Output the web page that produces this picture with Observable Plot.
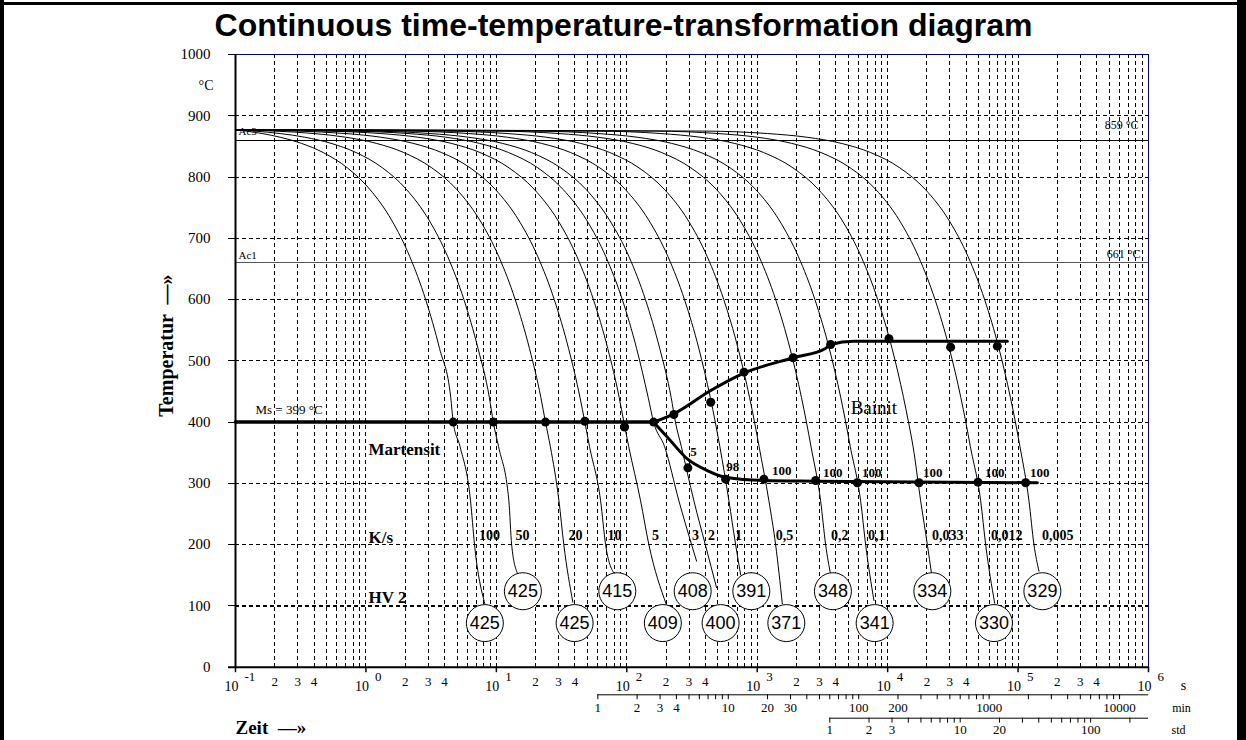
<!DOCTYPE html>
<html><head><meta charset="utf-8">
<script src="https://cdn.jsdelivr.net/npm/d3@7"></script>
<script src="https://cdn.jsdelivr.net/npm/@observablehq/plot@0.6"></script>
<style>
body{margin:0;background:#fff;width:1246px;height:740px;overflow:hidden;position:relative}
#chart{position:absolute;left:0;top:0}
.bar{position:absolute;background:#000}
</style></head><body>
<div id="chart"></div>
<div class="bar" style="left:0;top:0;width:4px;height:740px"></div>
<div class="bar" style="left:0;top:2px;width:1246px;height:3px"></div>
<div class="bar" style="left:1237px;top:0;width:9px;height:740px"></div>
<script>
// ---------- data ----------
const title = "Continuous time-temperature-transformation diagram";
const rateLabels = ["100","50","20","10","5","3","2","1","0,5","0,2","0,1","0,033","0,012","0,005"];
// time (s) where each cooling curve crosses these temperatures (°C)
const upperLevels = [877, 875, 871, 865, 855, 840, 815, 780, 730, 670, 600, 520, 440];
const upperTimes = [
  [0.1, 0.12, 0.16, 0.22, 0.32, 0.47, 0.72, 1.07, 1.57, 2.17, 2.87, 3.67, 4.47],
  [0.1, 0.14, 0.22, 0.34, 0.54, 0.84, 1.34, 2.04, 3.04, 4.24, 5.64, 7.24, 8.84],
  [0.1, 0.2, 0.4, 0.7, 1.2, 1.95, 3.2, 4.95, 7.45, 10.45, 13.95, 17.95, 21.95],
  [0.1, 0.3, 0.7, 1.3, 2.3, 3.8, 6.3, 9.8, 14.8, 20.8, 27.8, 35.8, 43.8],
  [0.1, 0.5, 1.3, 2.5, 4.5, 7.5, 12.5, 19.5, 29.5, 41.5, 55.5, 71.5, 87.5],
  [0.1, 0.77, 2.1, 4.1, 7.4, 12.4, 20.8, 32.4, 49.1, 69.1, 92.4, 119, 146],
  [0.1, 1.1, 3.1, 6.1, 11.1, 18.6, 31.1, 48.6, 73.6, 104, 139, 179, 219],
  [0.1, 2.1, 6.1, 12.1, 22.1, 37.1, 62.1, 97.1, 147, 207, 277, 357, 437],
  [0.1, 4.1, 12.1, 24.1, 44.1, 74.1, 124, 194, 294, 414, 554, 714, 874],
  [0.1, 10.1, 30.1, 60.1, 110, 185, 310, 485, 735, 1035, 1385, 1785, 2185],
  [0.1, 20, 60, 120, 220, 370, 620, 970, 1470, 2070, 2770, 3570, 4370],
  [0.1, 61, 182, 364, 667, 1121, 1879, 2939, 4455, 6273, 8394, 10818, 13242],
  [0.1, 167, 500, 1000, 1833, 3083, 5167, 8083, 12250, 17250, 23083, 29750, 36417],
  [0.1, 400, 1200, 2400, 4400, 7400, 12400, 19400, 29400, 41400, 55400, 71400, 87400]
];
const lowerLevels = [400, 360, 271.5, 200];
const lowerTimes = [
  [4.67, 5.27, 6.34, 6.80],
  [9.47, 10.4, 12.47, 13.1],
  [23.8, 25.95, 30.2, 32.9],
  [47.7, 51.8, 63.0, 68.8],
  [95, 103.5, 127.6, 147.7],
  [160.5, 195, 251, 314],
  [236, 262, 327, 400],
  [477, 517, 607, 683],
  [954, 1034, 1229, 1384],
  [2385, 2585, 3064, 3346],
  [4770, 5170, 6207, 6781],
  [14454, 15667, 17910, 20160],
  [39750, 43083, 51670, 56430],
  [95400, 103400, 121200, 132400]
];
const endTimes = [8.16, 14.5, 38.6, 79.6, 201, 343, 488, 746, 1558, 3655, 7850, 21750, 66170, 144660];
const endTemps = [103.5, 153.4, 106, 153.4, 102.3, 173, 129.6, 151.3, 103.5, 151.3, 108.9, 151.3, 104.5, 156.7];
const rateLabelTimes = [8.87, 15.88, 40.5, 80.6, 166, 337, 447, 720, 1622, 4284, 8233, 28850, 81760, 201200];

const hvValues = [425, 425, 425, 415, 409, 408, 400, 391, 371, 348, 341, 334, 330, 329];
const hvTimes = [8.16, 15.97, 39.8, 84.6, 189, 320, 524, 901, 1672, 3806, 7950, 22020, 65350, 153600];
const hvTemps = [72, 124, 72, 124, 72, 124, 72, 124, 72, 124, 72, 124, 72, 124];

const msTemp = 400, msLabel = "Ms = 399 °C";
const msLineTimes = [0.1, 160.5];
const msDotTimes = [4.67, 9.47, 23.8, 47.7, 96.2, 160.5];
const msDotTemps = [400, 400, 400, 401.5, 392, 400];
const bsLineTimes = [160.5, 229.6, 440, 792, 1888, 3311, 3657, 5516, 82800];
const bsLineTemps = [400, 413.6, 451.6, 480, 505, 519.7, 526.7, 532, 532];
const bsDotTimes = [229.6, 440, 792, 1888, 3657, 10230, 30400, 69300];
const bsDotTemps = [412.5, 432.5, 481.5, 505, 526.7, 536, 522.3, 524];
const bfLineTimes = [160.5, 205, 291, 414, 573, 1125, 2806, 140600];
const bfLineTemps = [400, 375.4, 340, 321, 310, 304.7, 303.6, 301];
const bfDotTimes = [294, 572, 1126, 2806, 5855, 17400, 49270, 114300];
const bfDotTemps = [325.4, 306.9, 306.9, 304.7, 301, 301, 302, 301];
const pctLabels = ["5", "98", "100", "100", "100", "100", "100", "100"];
const pctTimes = [325, 648, 1539, 3786, 7540, 22140, 66170, 146400];
const pctTemps = [352, 327.6, 321, 318, 318, 318, 318, 318];

const ac3 = 859, ac1 = 661;
const yTicks = [0, 100, 200, 300, 400, 500, 600, 700, 800, 900, 1000];
const decadeExp = [-1, 0, 1, 2, 3, 4, 5, 6];
const minorLabelMult = [2, 3, 4];
const minLabels = [1, 2, 3, 4, 10, 20, 30, 100, 200, 1000, 10000];
const stdLabels = [1, 2, 3, 10, 20, 100];

// ---------- derived tables ----------
const curves = rateLabels.flatMap((r, i) => [
  ...upperLevels.map((T, j) => ({id: i, t: upperTimes[i][j], T})),
  ...lowerLevels.map((T, j) => ({id: i, t: lowerTimes[i][j], T})),
  {id: i, t: endTimes[i], T: endTemps[i]}
]);
const hv = hvValues.map((v, i) => ({v, t: hvTimes[i], T: hvTemps[i]}));
const rates = rateLabels.map((r, i) => ({r, t: rateLabelTimes[i]}));
const pts = (ts, Ts) => ts.map((t, i) => ({t, T: Ts[i]}));
const decades = decadeExp.map(e => Math.pow(10, e));
const minors = decadeExp.slice(0, -1).flatMap(e => [2,3,4,5,6,7,8,9].map(m => m * Math.pow(10, e)));
const minorLabelled = decadeExp.slice(0, -1).flatMap(e => minorLabelMult.map(m => ({m, t: m * Math.pow(10, e)})));
const minTicks = [0,1,2,3].flatMap(e => [1,2,3,4,5,6,7,8,9].map(m => m * Math.pow(10, e) * 60)).concat([600000]);
const stdTicks = [0,1].flatMap(e => [1,2,3,4,5,6,7,8,9].map(m => m * Math.pow(10, e) * 3600)).concat([360000, 720000]);

const serif = "Liberation Serif, Times New Roman, serif";
const sans = "Liberation Sans, Arial, sans-serif";
const dash = {stroke: "#000", strokeWidth: 1, strokeDasharray: "4,3", shapeRendering: "crispEdges"};
const mid = {lineAnchor: "middle"};

const chart = Plot.plot({
  width: 1246, height: 740,
  marginLeft: 235, marginRight: 98, marginTop: 54, marginBottom: 73.3,
  x: {type: "log", domain: [0.1, 1e6], axis: null},
  y: {domain: [0, 1000], axis: null},
  style: {fontFamily: serif, background: "white", overflow: "visible", color: "#000"},
  marks: [
    // grid
    Plot.ruleX(minors, dash),
    Plot.ruleX(decades.slice(1, -1), {...dash}),
    Plot.ruleY([200, 300, 400, 500, 600, 700, 800, 900], {x1: 0.1, x2: 1e6, ...dash}),
    Plot.ruleY([100], {x1: 0.1, x2: 1e6, ...dash, strokeWidth: 2}),
    Plot.ruleY(yTicks, {x1: 0.0884, x2: 0.1, stroke: "#000", shapeRendering: "crispEdges"}),
    Plot.ruleX(decades, {y1: 0, y2: -9, stroke: "#000", strokeWidth: 1.5}),
    // critical temperatures
    Plot.ruleY([ac3], {x1: 0.1, x2: 1e6, stroke: "#000", shapeRendering: "crispEdges"}),
    Plot.ruleY([ac1], {x1: 0.1, x2: 1e6, stroke: "#555", shapeRendering: "crispEdges"}),
    // cooling curves
    Plot.line(curves, {x: "t", y: "T", z: "id", curve: "monotone-x", stroke: "#000", strokeWidth: 1}),
    // transformation lines
    Plot.line(pts(msLineTimes, [msTemp, msTemp]), {x: "t", y: "T", stroke: "#000", strokeWidth: 3.5}),
    Plot.line(pts(bsLineTimes, bsLineTemps), {x: "t", y: "T", curve: "monotone-x", stroke: "#000", strokeWidth: 3}),
    Plot.line(pts(bfLineTimes, bfLineTemps), {x: "t", y: "T", curve: "monotone-x", stroke: "#000", strokeWidth: 3}),
    Plot.dot(pts(msDotTimes, msDotTemps), {x: "t", y: "T", r: 4.5, fill: "#000"}),
    Plot.dot(pts(bsDotTimes, bsDotTemps), {x: "t", y: "T", r: 4.5, fill: "#000"}),
    Plot.dot(pts(bfDotTimes, bfDotTemps), {x: "t", y: "T", r: 4.5, fill: "#000"}),
    // frame
    Plot.ruleY([1000], {x1: 0.1, x2: 1e6, stroke: "#000080", shapeRendering: "crispEdges"}),
    Plot.ruleX([1e6], {y1: 0, y2: 1000, stroke: "#000080", shapeRendering: "crispEdges"}),
    Plot.ruleX([0.1], {y1: 0, y2: 1000, stroke: "#000", strokeWidth: 2}),
    Plot.ruleY([0], {x1: 0.0884, x2: 1e6, stroke: "#000", strokeWidth: 2}),
    // HV circles
    Plot.dot(hv, {x: "t", y: "T", r: 18.5, fill: "white", stroke: "#000", strokeWidth: 1}),
    Plot.text(hv, {x: "t", y: "T", text: d => String(d.v), fontFamily: sans, fontSize: 18, ...mid}),
    // rate & percentage labels
    Plot.text(rates, {x: "t", y: () => 215, text: "r", fontSize: 14, fontWeight: "bold", ...mid}),
    Plot.text(pts(pctTimes, pctTemps).map((d, i) => ({...d, s: pctLabels[i]})), {x: "t", y: "T", text: "s", fontSize: 13, fontWeight: "bold", ...mid}),
    // annotations
    Plot.text([msLabel], {x: () => 0.1423, y: () => 420.6, textAnchor: "start", fontSize: 13, ...mid}),
    Plot.text(["Martensit"], {x: () => 1.047, y: () => 355, textAnchor: "start", fontSize: 17, fontWeight: "bold", ...mid}),
    Plot.text(["Bainit"], {x: () => 5203, y: () => 424, textAnchor: "start", fontSize: 19, ...mid}),
    Plot.text(["K/s"], {x: () => 1.047, y: () => 212, textAnchor: "start", fontSize: 17, fontWeight: "bold", ...mid}),
    Plot.text(["HV 2"], {x: () => 1.047, y: () => 114, textAnchor: "start", fontSize: 17, fontWeight: "bold", ...mid}),
    Plot.text(["Ac3"], {x: () => 0.1054, y: () => 874, textAnchor: "start", fontSize: 11, ...mid}),
    Plot.text(["Ac1"], {x: () => 0.1054, y: () => 672, textAnchor: "start", fontSize: 11, ...mid}),
    Plot.text([ac3 + " °C"], {x: () => 1e6, y: () => 884, dx: -10, textAnchor: "end", fontSize: 12, ...mid}),
    Plot.text([ac1 + " °C"], {x: () => 1e6, y: () => 673.5, dx: -8, textAnchor: "end", fontSize: 12, ...mid}),
    // y axis labels
    Plot.text(yTicks, {y: d => d, text: d => String(d), frameAnchor: "left", dx: -25, textAnchor: "end", fontSize: 15, ...mid}),
    Plot.text(["°C"], {y: () => 950, frameAnchor: "left", dx: -22, textAnchor: "end", fontSize: 14, ...mid}),
    Plot.text(["Temperatur  —»"], {y: () => 525, frameAnchor: "left", dx: -69, rotate: -90, textAnchor: "middle", fontSize: 20, fontWeight: "bold", ...mid}),
    // x axis labels
    Plot.text(decades, {x: d => d, text: () => "10", frameAnchor: "bottom", dx: 3, dy: 19.5, textAnchor: "end", fontSize: 14, ...mid}),
    Plot.text(decadeExp, {x: d => Math.pow(10, d), text: d => String(d), frameAnchor: "bottom", dx: 9, dy: 10, textAnchor: "start", fontSize: 13, ...mid}),
    Plot.text(minorLabelled, {x: "t", text: d => String(d.m), frameAnchor: "bottom", dy: 15, textAnchor: "middle", fontSize: 13, ...mid}),
    Plot.text(["s"], {x: () => 1e6, frameAnchor: "bottom", dx: 35, dy: 18, textAnchor: "middle", fontSize: 14, ...mid}),
    Plot.text(["Zeit  —»"], {x: () => 0.1, frameAnchor: "bottom", dy: 60.5, textAnchor: "start", fontSize: 19, fontWeight: "bold", ...mid}),
    // minutes axis
    Plot.ruleY([0], {x1: 60, x2: 1e6, dy: 27.6, stroke: "#000"}),
    Plot.ruleX(minTicks, {y1: 0, y2: -8, dy: 27.6, stroke: "#000"}),
    Plot.text(minLabels, {x: d => d * 60, text: d => String(d), frameAnchor: "bottom", dy: 40.5, textAnchor: "middle", fontSize: 13, fontWeight: d => d === 10 ? "bold" : "normal", ...mid}),
    Plot.text(["min"], {x: () => 1e6, frameAnchor: "bottom", dx: 33, dy: 41, textAnchor: "middle", fontSize: 12, ...mid}),
    // hours axis
    Plot.ruleY([0], {x1: 3600, x2: 1e6, dy: 51, stroke: "#000"}),
    Plot.ruleX(stdTicks, {y1: 0, y2: -8, dy: 51, stroke: "#000"}),
    Plot.text(stdLabels, {x: d => d * 3600, text: d => String(d), frameAnchor: "bottom", dy: 62.5, textAnchor: "middle", fontSize: 13, fontWeight: d => d === 10 ? "bold" : "normal", ...mid}),
    Plot.text(["std"], {x: () => 1e6, frameAnchor: "bottom", dx: 30, dy: 62.5, textAnchor: "middle", fontSize: 12, ...mid}),
    // title
    Plot.text([title], {frameAnchor: "top", dx: -68.5, dy: -29, textAnchor: "middle", fontSize: 32, fontWeight: "bold", fontFamily: sans, ...mid})
  ]
});
document.getElementById("chart").appendChild(chart);
</script>
</body></html>
